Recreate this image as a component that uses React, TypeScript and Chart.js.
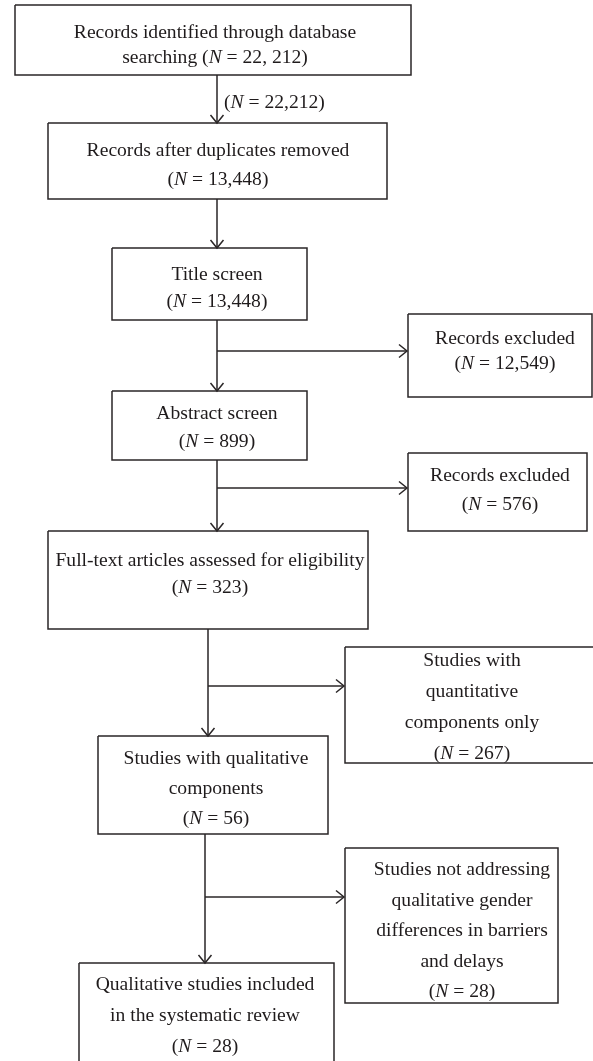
import { useEffect, useRef } from "react";
import { Chart, registerables } from "chart.js";

Chart.register(...registerables);

// ---- Data: stage texts and counts ----
const stageLines: string[][] = [
  ["Records identified through database", "searching {N}"],
  ["Records after duplicates removed", "{N}"],
  ["Title screen", "{N}"],
  ["Records excluded", "{N}"],
  ["Abstract screen", "{N}"],
  ["Records excluded", "{N}"],
  ["Full-text articles assessed for eligibility", "{N}"],
  ["Studies with", "quantitative", "components only", "{N}"],
  ["Studies with qualitative", "components", "{N}"],
  ["Studies not addressing", "qualitative gender", "differences in barriers", "and delays", "{N}"],
  ["Qualitative studies included", "in the systematic review", "{N}"],
];
const stageCounts: string[] = [
  "22, 212", "13,448", "13,448", "12,549", "899", "576", "323", "267", "56", "28", "28",
];
const linkCountLabel = "22,212";

// ---- Layout (axis units, 1 unit = 1 px) ----
// [x0, x1, y0, y1]
const boxRects: number[][] = [
  [15, 411, 5, 75],
  [48, 387, 123, 199],
  [112, 307, 248, 320],
  [408, 592, 314, 397],
  [112, 307, 391, 460],
  [408, 587, 453, 531],
  [48, 368, 531, 629],
  [345, 600, 647, 763],
  [98, 328, 736, 834],
  [345, 558, 848, 1003],
  [79, 334, 963, 1080],
];
// [text center x, first baseline y, line height]
const textAnchors: number[][] = [
  [215, 38, 25],
  [218, 156, 29],
  [217, 280, 27],
  [505, 344, 25],
  [217, 419, 28],
  [500, 481, 29],
  [210, 566, 27],
  [472, 666, 31],
  [216, 764, 30],
  [462, 875, 30.5],
  [205, 990, 31],
];
// vertical links [x, yStart, yEnd]
const verticalLinks: number[][] = [
  [217, 75, 123],
  [217, 199, 248],
  [217, 320, 391],
  [217, 460, 531],
  [208, 629, 736],
  [205, 834, 963],
];
// branch links [y, xStart, xEnd]
const branchLinks: number[][] = [
  [351, 217, 407],
  [488, 217, 407],
  [686, 208, 344],
  [897, 205, 344],
];
const linkLabelAnchor = [224, 108];

const W = 593;
const H = 1061;
const INK = "#1f1b1c";
const FONT_SIZE = 19.6;
const FAMILY = "'Liberation Serif', 'Times New Roman', serif";

function drawRich(ctx: CanvasRenderingContext2D, text: string, cx: number, y: number) {
  const parts = text.split(/(\bN\b)/).filter((p) => p.length > 0);
  const normal = `${FONT_SIZE}px ${FAMILY}`;
  const italic = `italic ${FONT_SIZE}px ${FAMILY}`;
  let total = 0;
  const widths = parts.map((p) => {
    ctx.font = p === "N" ? italic : normal;
    const w = ctx.measureText(p).width;
    total += w;
    return w;
  });
  let x = cx - total / 2;
  parts.forEach((p, i) => {
    ctx.font = p === "N" ? italic : normal;
    ctx.fillText(p, x, y);
    x += widths[i];
  });
}

const textPlugin = {
  id: "flowText",
  afterDatasetsDraw(chart: any) {
    const { ctx, scales } = chart;
    const sx = scales.x;
    const sy = scales.y;
    ctx.save();
    ctx.fillStyle = INK;
    ctx.textBaseline = "alphabetic";
    ctx.textAlign = "left";
    stageLines.forEach((lines, i) => {
      const [tx, ty, lh] = textAnchors[i];
      lines.forEach((line, j) => {
        const txt = line.replace("{N}", `(N = ${stageCounts[i]})`);
        drawRich(ctx, txt, sx.getPixelForValue(tx), sy.getPixelForValue(ty + j * lh));
      });
    });
    // link label (left aligned)
    const label = `(N = ${linkCountLabel})`;
    const parts = label.split(/(\bN\b)/).filter((p) => p.length > 0);
    let x = sx.getPixelForValue(linkLabelAnchor[0]);
    const y = sy.getPixelForValue(linkLabelAnchor[1]);
    parts.forEach((p) => {
      ctx.font = p === "N" ? `italic ${FONT_SIZE}px ${FAMILY}` : `${FONT_SIZE}px ${FAMILY}`;
      ctx.fillText(p, x, y);
      x += ctx.measureText(p).width;
    });
    ctx.restore();
  },
};

function lineDataset(points: { x: number; y: number }[]) {
  return {
    data: points,
    showLine: true,
    borderColor: "#2a2627",
    borderWidth: 1.5,
    pointRadius: 0,
    pointHoverRadius: 0,
    fill: false,
    tension: 0,
    borderJoinStyle: "miter" as const,
    clip: false as const,
  };
}

export default function App() {
  const ref = useRef<HTMLCanvasElement | null>(null);

  useEffect(() => {
    if (!ref.current) return;
    const datasets: any[] = [];
    boxRects.forEach(([x0, x1, y0, y1]) => {
      datasets.push(
        lineDataset([
          { x: x0, y: y0 },
          { x: x1, y: y0 },
          { x: x1, y: y1 },
          { x: x0, y: y1 },
          { x: x0, y: y0 },
        ])
      );
    });
    const AH_W = 6.5;
    const AH_L = 8;
    verticalLinks.forEach(([x, y0, y1]) => {
      datasets.push(lineDataset([{ x, y: y0 }, { x, y: y1 }]));
      datasets.push(
        lineDataset([
          { x: x - AH_W, y: y1 - AH_L },
          { x, y: y1 },
          { x: x + AH_W, y: y1 - AH_L },
        ])
      );
    });
    branchLinks.forEach(([y, x0, x1]) => {
      datasets.push(lineDataset([{ x: x0, y }, { x: x1, y }]));
      datasets.push(
        lineDataset([
          { x: x1 - AH_L, y: y - AH_W },
          { x: x1, y },
          { x: x1 - AH_L, y: y + AH_W },
        ])
      );
    });

    const chart = new Chart(ref.current, {
      type: "scatter",
      data: { datasets },
      options: {
        animation: false,
        responsive: false,
        maintainAspectRatio: false,
        events: [],
        layout: { padding: 0 },
        plugins: { legend: { display: false }, tooltip: { enabled: false } },
        scales: {
          x: { type: "linear", min: 0, max: W, display: false },
          y: { type: "linear", min: 0, max: H, reverse: true, display: false },
        },
      },
      plugins: [textPlugin],
    });
    return () => chart.destroy();
  }, []);

  return (
    <div style={{ position: "absolute", left: 0, top: 0, width: W, height: H, background: "#fff" }}>
      <canvas ref={ref} width={W} height={H} style={{ display: "block" }} />
    </div>
  );
}
